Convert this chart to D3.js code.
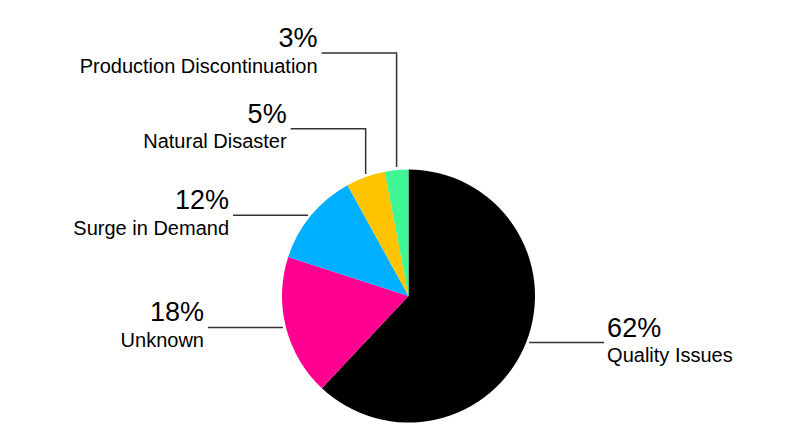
<!DOCTYPE html>
<html>
<head>
<meta charset="utf-8">
<script src="https://cdn.jsdelivr.net/npm/d3@7"></script>
<style>
  html, body { margin: 0; padding: 0; background: #fff; }
  svg { display: block; }
  text { font-family: "Liberation Sans", Arial, Helvetica, sans-serif; fill: #000; }
</style>
</head>
<body>
<svg id="chart" width="799" height="430"></svg>
<script>
// ---- Data ----
const categories = ["Quality Issues", "Unknown", "Surge in Demand", "Natural Disaster", "Production Discontinuation"];
const values = [62, 18, 12, 5, 3];
const percentLabels = ["62%", "18%", "12%", "5%", "3%"];

// ---- Styles / layout (not data) ----
const colors = ["#000000", "#ff0090", "#00afff", "#ffc300", "#40f594"];
const W = 799, H = 430;
const cx = 408.5, cy = 296, r = 126.5;
const gap = 3, leaderLen = 75;
// per-slice leader layout: side, and elbow y for leaders that rise vertically first
const leaderLayout = [
  { side: "right" },
  { side: "left" },
  { side: "left" },
  { side: "left", elbowY: 128.7 },
  { side: "left", elbowY: 53 }
];

const svg = d3.select("#chart");
const g = svg.append("g").attr("transform", `translate(${cx},${cy})`);

const pie = d3.pie().sort(null).value(d => d).startAngle(0).endAngle(2 * Math.PI);
const arcs = pie(values);
const arc = d3.arc().innerRadius(0).outerRadius(r);
const color = d3.scaleOrdinal().domain(categories).range(colors);

g.selectAll("path.slice")
  .data(arcs)
  .join("path")
  .attr("class", "slice")
  .attr("d", arc)
  .attr("fill", (d, i) => color(categories[i]));

const leaders = svg.append("g");
arcs.forEach((d, i) => {
  const a = (d.startAngle + d.endAngle) / 2;
  const ax = cx + r * Math.sin(a);
  const ay = cy - r * Math.cos(a);
  const L = leaderLayout[i];
  let pts, lineY, textX, anchor;
  if (L.elbowY !== undefined) {
    // vertical from top edge, then horizontal left
    const yEdge = cy - Math.sqrt(r * r - (ax - cx) * (ax - cx));
    pts = [[ax, yEdge - gap], [ax, L.elbowY], [ax - leaderLen, L.elbowY]];
    lineY = L.elbowY;
    textX = ax - leaderLen - 4;
    anchor = "end";
  } else {
    const dx = Math.sqrt(r * r - (ay - cy) * (ay - cy));
    if (L.side === "left") {
      const x0 = cx - dx - gap;
      pts = [[x0, ay], [x0 - leaderLen, ay]];
      textX = x0 - leaderLen - 4;
      anchor = "end";
    } else {
      const x0 = cx + dx + gap;
      pts = [[x0, ay], [x0 + leaderLen, ay]];
      textX = x0 + leaderLen + 3;
      anchor = "start";
    }
    lineY = ay;
  }
  leaders.append("path")
    .attr("d", d3.line()(pts))
    .attr("fill", "none")
    .attr("stroke", "#333")
    .attr("stroke-width", 1.5);
  leaders.append("text")
    .attr("x", textX)
    .attr("y", lineY - 6)
    .attr("text-anchor", anchor)
    .attr("font-size", 27)
    .text(percentLabels[i]);
  leaders.append("text")
    .attr("x", textX)
    .attr("y", lineY + 19.5)
    .attr("text-anchor", anchor)
    .attr("font-size", 20)
    .text(categories[i]);
});
</script>
</body>
</html>
